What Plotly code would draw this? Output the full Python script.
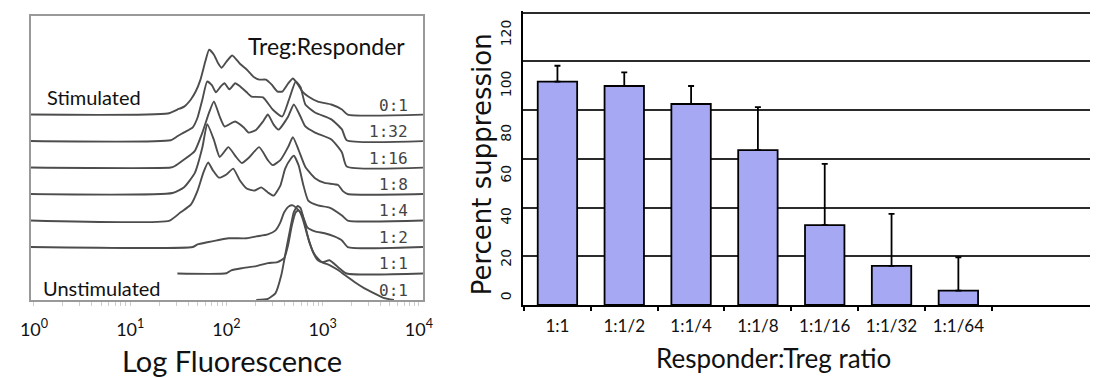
import math
import plotly.graph_objects as go

# ---------------- Left panel: stacked CFSE histograms ----------------
# x: log10 fluorescence, h: height above each row's baseline (stack units)
stim01_x = [-0.04, 1.39, 1.49, 1.56, 1.63, 1.68, 1.73, 1.78, 1.82, 1.87, 1.91, 1.95, 2.00, 2.06,
            2.14, 2.21, 2.28, 2.34, 2.41, 2.47, 2.53, 2.58, 2.64, 2.69, 2.74, 2.79, 2.85, 2.95,
            3.09, 3.20, 3.26, 4.05]
stim01_h = [0, 0.04, 0.19, 0.30, 0.57, 0.87, 1.32, 2.00, 2.45, 2.26, 1.96, 1.77, 2.00, 2.23,
            1.92, 1.70, 1.43, 1.32, 1.32, 1.13, 0.87, 0.87, 1.17, 1.36, 1.15, 0.87, 0.68, 0.49,
            0.38, 0.19, 0, 0]

r1_32_x = [-0.04, 1.42, 1.49, 1.56, 1.65, 1.70, 1.75, 1.80, 1.85, 1.89, 1.94, 1.98, 2.03, 2.09,
           2.14, 2.21, 2.26, 2.38, 2.48, 2.58, 2.65, 2.72, 2.77, 2.82, 2.92, 3.09, 3.20, 3.25, 4.05]
r1_32_h = [0, 0.03, 0.18, 0.33, 0.52, 0.89, 1.57, 2.25, 2.10, 1.84, 2.06, 2.18, 1.95, 2.18,
           2.07, 1.84, 1.68, 1.65, 1.19, 0.93, 1.57, 2.25, 2.03, 1.38, 1.08, 0.82, 0.44, 0.03, 0]

r1_16_x = [-0.04, 1.42, 1.46, 1.56, 1.67, 1.75, 1.82, 1.87, 1.93, 1.98, 2.09, 2.18, 2.23, 2.31,
           2.38, 2.43, 2.49, 2.54, 2.64, 2.70, 2.77, 2.82, 2.92, 3.09, 3.20, 3.25, 4.05]
r1_16_h = [0, 0, 0.05, 0.30, 0.62, 1.32, 2.08, 2.50, 1.92, 1.55, 1.74, 1.51, 1.32, 1.43,
           1.74, 2.00, 1.62, 1.43, 1.92, 2.38, 1.92, 1.55, 1.32, 1.06, 0.57, 0.04, 0]

r1_8_x = [-0.04, 1.44, 1.56, 1.67, 1.75, 1.80, 1.87, 1.93, 2.02, 2.10, 2.16, 2.24, 2.34, 2.43,
          2.48, 2.56, 2.64, 2.69, 2.75, 2.82, 2.92, 3.02, 3.16, 3.21, 3.26, 4.05]
r1_8_h = [0, 0.04, 0.26, 0.79, 1.77, 2.64, 2.04, 1.40, 1.77, 1.40, 1.17, 1.40, 1.77, 1.28,
          1.09, 1.28, 1.77, 2.15, 1.66, 1.02, 0.60, 0.42, 0.34, 0.11, 0, 0]

r1_4_x = [-0.04, 1.41, 1.52, 1.63, 1.70, 1.76, 1.81, 1.86, 1.92, 2.00, 2.07, 2.14, 2.21, 2.29,
          2.36, 2.43, 2.49, 2.56, 2.61, 2.67, 2.70, 2.75, 2.80, 2.85, 2.95, 3.07, 3.20, 3.26, 4.05]
r1_4_h = [0, 0, 0.30, 0.60, 1.13, 1.81, 2.19, 1.89, 1.62, 1.74, 1.96, 1.51, 1.21, 1.13,
          1.25, 1.06, 0.94, 1.32, 1.96, 2.34, 2.45, 2.08, 1.32, 0.75, 0.57, 0.49, 0.19, 0, 0]

r1_2_x = [-0.04, 1.65, 1.70, 1.80, 1.90, 2.02, 2.21, 2.31, 2.43, 2.51, 2.56, 2.60, 2.65, 2.69,
          2.74, 2.79, 2.84, 2.92, 3.02, 3.12, 3.20, 3.26, 4.05]
r1_2_h = [0, 0, 0.10, 0.18, 0.25, 0.33, 0.33, 0.40, 0.48, 0.63, 0.93, 1.31, 1.54, 1.57,
          1.42, 1.20, 0.74, 0.59, 0.52, 0.40, 0.25, 0, 0]

r1_1_x = [1.49, 2.00, 2.05, 2.16, 2.31, 2.43, 2.53, 2.60, 2.64, 2.68, 2.72, 2.75, 2.79, 2.84,
          2.90, 2.95, 3.00, 3.07, 3.16, 3.25, 4.05]
r1_1_h = [0, 0.01, 0.12, 0.20, 0.28, 0.39, 0.43, 0.58, 1.07, 1.82, 2.31, 2.39, 2.09, 1.45,
          0.80, 0.50, 0.43, 0.50, 0.24, 0, 0]

unstim_x = [2.31, 2.43, 2.51, 2.57, 2.61, 2.66, 2.70, 2.74, 2.77, 2.81, 2.86, 2.92, 2.99, 3.07,
            3.16, 3.23, 3.33, 3.43, 3.53, 3.63, 3.74]
unstim_h = [0, 0.04, 0.26, 0.94, 1.70, 2.64, 3.32, 3.55, 3.47, 2.94, 2.19, 1.70, 1.43, 1.32,
            1.13, 0.94, 0.68, 0.45, 0.26, 0.08, 0]

# row order from bottom (baseline 0) to top
hist_rows = [
    ("0:1", unstim_x, unstim_h),
    ("1:1", r1_1_x, r1_1_h),
    ("1:2", r1_2_x, r1_2_h),
    ("1:4", r1_4_x, r1_4_h),
    ("1:8", r1_8_x, r1_8_h),
    ("1:16", r1_16_x, r1_16_h),
    ("1:32", r1_32_x, r1_32_h),
    ("0:1", stim01_x, stim01_h),
]

decades = [0, 1, 2, 3, 4]
decade_labels = ["10<sup>0</sup>", "10<sup>1</sup>", "10<sup>2</sup>", "10<sup>3</sup>", "10<sup>4</sup>"]

# ---------------- Right panel: suppression bars ----------------
ratios = ["1:1", "1:1/2", "1:1/4", "1:1/8", "1:1/16", "1:1/32", "1:1/64"]
suppression = [91.7, 89.9, 82.5, 63.6, 32.8, 16.1, 5.9]
suppression_err = [6.5, 5.6, 7.4, 17.6, 25.1, 21.3, 13.7]
grid_vals = [0, 20, 40, 60, 80, 100, 120]
pct_labels = ["0", "20", "40", "60", "80", "100", "120"]
pct_label_pos = [2.9, 18.5, 35.7, 53.0, 69.8, 89.9, 110.8]

fig = go.Figure()

line_col = "#4d4d4d"
for i, (lab, xs, hs) in enumerate(hist_rows):
    fig.add_trace(go.Scatter(
        x=xs, y=[i + h for h in hs], mode="lines",
        line=dict(color=line_col, width=1.9, shape="spline", smoothing=0.5),
        xaxis="x", yaxis="y", showlegend=False, hoverinfo="skip"))
    fig.add_annotation(x=3.91, y=i + 0.36, xref="x", yref="y", text=lab, showarrow=False,
                       xanchor="right", yanchor="middle",
                       font=dict(family="DejaVu Sans Mono", size=16, color="#444444"))

fig.add_trace(go.Bar(
    x=ratios, y=suppression, xaxis="x2", yaxis="y2",
    marker=dict(color="#a6a8f4", line=dict(color="black", width=1.8)),
    width=0.59,
    error_y=dict(type="data", array=suppression_err, arrayminus=[0] * len(ratios),
                 symmetric=False, color="black", thickness=1.8, width=3),
    showlegend=False, hoverinfo="skip"))
# carrier for the percent label axis
fig.add_trace(go.Scatter(x=[ratios[0]], y=[0], xaxis="x2", yaxis="y3", mode="markers",
                         marker=dict(opacity=0), showlegend=False, hoverinfo="skip"))

minor_vals = [d + math.log10(k) for d in range(4) for k in range(2, 10)]

bar_range = [0, 120.6]
bar_domain = [73 / 378, 366.8 / 378]

fig.update_layout(
    width=1100, height=378,
    margin=dict(l=0, r=0, t=0, b=0),
    paper_bgcolor="white", plot_bgcolor="white",
    xaxis=dict(domain=[20 / 1100, 420 / 1100], range=[-0.035, 4.042],
               tickvals=decades + minor_vals,
               ticktext=decade_labels + [""] * len(minor_vals),
               ticks="outside", ticklen=4, tickcolor="#cccccc", tickwidth=1,
               ticklabelstandoff=8,
               tickfont=dict(family="Lato", size=18, color="#111111"),
               showgrid=False, zeroline=False, showline=True, linecolor="#999999",
               linewidth=2, mirror=True, anchor="y"),
    yaxis=dict(domain=[78 / 378, 362.5 / 378], range=[0, 10.74], showticklabels=False,
               ticks="", showgrid=False, zeroline=False, showline=True, linecolor="#999999",
               linewidth=2, mirror=True, anchor="x"),
    xaxis2=dict(domain=[522 / 1100, 1.0], type="category", range=[-0.515, 7.97],
                showline=True, linecolor="black", linewidth=2, ticks="outside",
                tickson="boundaries", ticklen=4, tickcolor="black", tickwidth=1.5,
                ticklabelstandoff=5,
                tickfont=dict(family="Lato", size=17, color="#111111"),
                showgrid=False, zeroline=False, anchor="y2"),
    yaxis2=dict(domain=bar_domain, range=bar_range, tickvals=grid_vals,
                showticklabels=False, ticks="", showgrid=True, gridcolor="#2b2b2b",
                gridwidth=2, showline=True, linecolor="black", linewidth=2,
                zeroline=False, anchor="x2"),
    yaxis3=dict(domain=bar_domain, range=bar_range, tickvals=pct_label_pos,
                ticktext=pct_labels,
                overlaying="y2", side="left", anchor="x2", tickangle=-90,
                showgrid=False, showline=False, zeroline=False, ticks="",
                ticklabelstandoff=8,
                tickfont=dict(family="DejaVu Sans", size=14, color="#111111")),
    annotations=list(fig.layout.annotations) + [
        dict(x=3.04, y=9.58, xref="x", yref="y", text="Treg:Responder", showarrow=False,
             xanchor="center", font=dict(family="Lato", size=23, color="#111111")),
        dict(x=0.62, y=7.66, xref="x", yref="y", text="Stimulated", showarrow=False,
             xanchor="center", font=dict(family="Lato", size=20, color="#111111")),
        dict(x=0.71, y=0.45, xref="x", yref="y", text="Unstimulated", showarrow=False,
             xanchor="center", font=dict(family="Lato", size=20, color="#111111")),
        dict(x=225 / 1100, y=(378 - 360) / 378, xref="paper", yref="paper",
             text="Log Fluorescence", showarrow=False, xanchor="center", yanchor="middle",
             font=dict(family="Lato", size=29, color="#111111")),
        dict(x=777 / 1100, y=(378 - 358) / 378, xref="paper", yref="paper",
             text="Responder:Treg ratio", showarrow=False, xanchor="center", yanchor="middle",
             font=dict(family="Lato", size=26, color="#111111")),
        dict(x=480 / 1100, y=(378 - 164.5) / 378, xref="paper", yref="paper",
             text="Percent suppression", showarrow=False, textangle=-90,
             xanchor="center", yanchor="middle",
             font=dict(family="DejaVu Sans", size=26, color="#111111")),
    ],
)

fig.write_html("out.html")
